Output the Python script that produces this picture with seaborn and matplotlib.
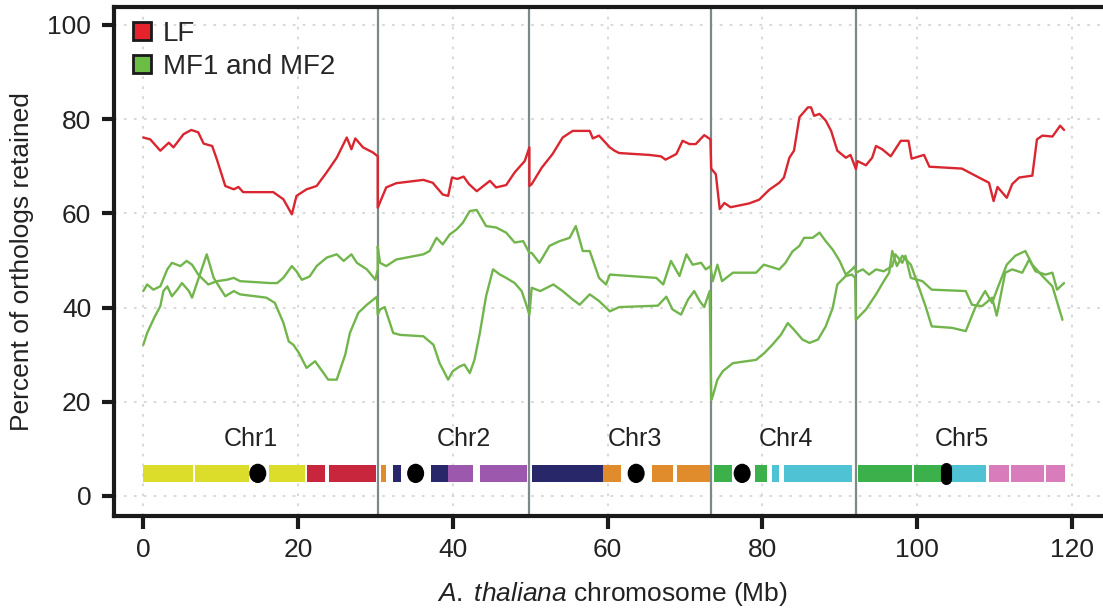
import matplotlib
matplotlib.use("Agg")
import matplotlib.pyplot as plt
from matplotlib.patches import Patch, Ellipse
import numpy as np
import pandas as pd
import seaborn as sns

# Sliding-window retention along the concatenated A. thaliana genome (Mb, %)
lf_points = [
    (0.0, 76.1), (0.9, 75.7), (2.2, 73.3), (3.3, 75.0), (3.9, 74.0), (5.2, 76.8),
    (6.2, 77.7), (7.1, 77.2), (7.8, 74.8), (8.9, 74.3), (9.5, 71.5), (10.6, 65.8),
    (11.7, 65.1), (12.3, 65.6), (12.9, 64.5), (16.8, 64.5), (18.1, 63.0), (19.2, 59.8),
    (19.8, 63.7), (21.1, 65.1), (22.4, 65.8), (23.7, 68.7), (25.0, 71.8), (26.3, 76.1),
    (26.9, 73.6), (27.4, 75.9), (28.4, 74.0), (29.7, 72.9), (30.3, 72.1),
    (30.3, 61.2), (31.4, 65.5), (32.7, 66.4), (36.2, 67.1), (37.4, 66.5), (38.7, 64.0),
    (39.4, 63.7), (39.9, 67.6), (40.6, 67.3), (41.4, 67.8), (42.1, 66.2), (43.1, 64.7),
    (44.8, 66.9), (45.6, 65.5), (46.9, 66.0), (48.0, 68.7), (49.3, 71.1), (49.9, 74.0),
    (49.9, 65.8), (50.2, 66.2), (51.5, 69.7), (52.9, 72.6), (54.2, 76.1), (55.5, 77.5),
    (57.7, 77.5), (58.1, 75.9), (58.9, 76.5), (60.3, 74.0), (60.9, 73.3), (61.5, 72.8),
    (65.4, 72.4), (66.9, 72.1), (67.5, 71.4), (68.9, 72.6), (69.7, 75.4), (70.6, 74.7),
    (71.4, 74.7), (72.5, 76.6), (73.3, 75.7),
    (73.4, 69.5), (74.0, 68.3), (74.5, 60.9), (75.1, 62.2), (75.9, 61.3), (78.3, 62.1),
    (79.6, 62.9), (80.9, 65.0), (82.2, 66.5), (82.8, 67.6), (83.5, 71.8), (84.1, 73.3),
    (84.8, 80.4), (85.9, 82.5), (86.3, 82.5), (86.7, 80.7), (87.4, 81.1), (88.2, 79.7),
    (88.9, 77.5), (89.7, 73.3), (90.8, 71.8), (91.4, 72.4), (92.1, 69.4),
    (92.3, 71.1), (93.4, 70.2), (94.2, 71.8), (94.7, 74.3), (95.5, 73.6), (96.6, 72.1),
    (97.9, 75.4), (98.9, 75.4), (99.3, 71.6), (100.9, 72.4), (101.6, 69.9), (105.8, 69.5),
    (108.0, 67.6), (109.3, 66.5), (109.9, 62.6), (110.4, 65.6), (111.6, 63.3), (112.3, 66.2),
    (113.2, 67.6), (114.9, 68.0), (115.5, 75.7), (116.2, 76.5), (117.5, 76.3), (118.5, 78.6),
    (119.0, 77.7),
]

mf1_points = [
    (0.0, 43.5), (0.5, 44.9), (1.3, 43.8), (2.2, 44.5), (3.1, 48.1), (3.7, 49.5),
    (4.8, 48.8), (5.6, 49.9), (6.3, 49.1), (7.1, 47.0), (8.4, 44.9), (9.5, 45.6),
    (10.8, 45.9), (11.7, 46.3), (12.5, 45.6), (16.4, 45.2), (17.3, 45.2), (18.1, 46.3),
    (19.2, 48.8), (19.8, 47.7), (20.5, 45.9), (21.5, 46.6), (22.4, 48.8), (23.7, 50.6),
    (25.0, 51.3), (25.9, 49.9), (26.9, 51.3), (27.6, 49.5), (28.9, 48.1), (30.0, 45.9),
    (30.3, 48.1),
    (30.3, 53.0), (30.6, 49.5), (31.4, 48.8), (32.7, 50.2), (36.2, 51.3), (37.0, 52.0),
    (37.9, 54.8), (38.7, 53.4), (39.6, 55.5), (40.5, 56.6), (41.3, 58.0), (42.2, 60.5),
    (43.1, 60.7), (44.3, 57.3), (45.6, 57.0), (46.9, 55.9), (48.0, 53.8), (49.1, 54.1),
    (49.9, 51.6),
    (50.2, 51.6), (51.2, 49.5), (52.5, 53.1), (53.8, 54.1), (55.1, 54.8), (55.9, 57.3),
    (56.8, 52.0), (57.7, 52.0), (58.9, 46.3), (59.8, 44.9), (60.3, 47.0), (66.3, 46.3),
    (67.2, 44.9), (68.2, 49.9), (69.3, 46.7), (70.2, 51.3), (71.0, 49.1), (72.1, 49.5),
    (72.7, 48.1), (73.3, 48.8),
    (73.6, 45.6), (74.2, 49.1), (74.8, 45.6), (76.2, 47.4), (79.2, 47.4), (80.2, 49.1),
    (82.2, 48.1), (83.0, 49.5), (83.9, 51.9), (84.8, 53.1), (85.4, 54.8), (86.5, 54.8),
    (87.4, 55.9), (88.2, 54.1), (89.1, 52.3), (90.0, 49.9), (90.8, 47.0), (91.6, 48.1),
    (92.0, 48.8),
    (92.1, 47.4), (93.0, 48.1), (93.8, 47.0), (94.7, 48.1), (95.7, 47.7), (96.8, 48.8),
    (97.2, 51.3), (98.1, 49.5), (98.5, 51.0), (99.2, 46.3), (100.7, 45.6), (101.9, 43.8),
    (106.3, 43.5), (107.1, 40.6), (108.4, 40.3), (109.7, 42.1), (110.3, 38.3), (111.4, 47.4),
    (112.3, 48.1), (113.6, 47.4), (114.5, 50.2), (115.3, 47.7), (116.6, 47.0), (117.5, 47.4),
    (118.1, 43.8), (119.0, 45.2),
]

mf2_points = [
    (0.0, 32.1), (0.5, 34.6), (1.4, 37.8), (2.2, 40.3), (2.6, 43.5), (3.1, 44.5),
    (3.7, 42.4), (4.4, 43.8), (5.0, 45.2), (5.9, 43.5), (6.3, 42.1), (8.2, 51.3),
    (9.1, 46.3), (9.9, 44.2), (10.6, 42.4), (11.7, 43.5), (12.5, 42.8), (15.9, 42.1),
    (17.0, 41.0), (18.1, 36.8), (18.8, 32.8), (19.4, 32.1), (20.1, 30.4), (21.1, 27.2),
    (22.2, 28.6), (23.3, 26.1), (23.9, 24.7), (25.0, 24.7), (26.1, 30.0), (26.7, 34.6),
    (27.8, 38.9), (28.9, 40.6), (30.2, 42.3),
    (30.3, 38.5), (30.6, 39.6), (31.2, 40.1), (32.3, 34.6), (33.2, 34.2), (36.2, 33.9),
    (37.5, 32.1), (38.3, 28.2), (39.4, 24.7), (40.0, 26.5), (40.9, 27.5), (41.5, 27.9),
    (42.2, 26.1), (42.8, 28.9), (43.5, 34.6), (44.3, 42.4), (45.2, 48.1), (46.1, 47.0),
    (46.9, 46.3), (48.0, 45.2), (48.9, 43.5), (49.5, 40.6), (49.9, 38.5),
    (50.2, 44.2), (51.3, 43.5), (53.0, 44.9), (54.2, 43.5), (55.5, 41.7), (56.4, 40.6),
    (57.7, 42.8), (58.9, 41.4), (60.3, 39.2), (61.5, 40.1), (66.5, 40.4), (67.6, 42.3),
    (68.4, 39.6), (69.5, 38.5), (70.4, 41.7), (71.2, 43.5), (71.9, 41.4), (72.5, 40.1),
    (73.2, 43.5),
    (73.4, 20.4), (73.6, 21.2), (74.2, 24.7), (74.9, 26.5), (76.2, 28.2), (79.2, 28.9),
    (80.3, 30.4), (81.3, 32.1), (82.4, 34.2), (83.3, 36.7), (84.1, 35.3), (85.2, 33.2),
    (86.1, 32.5), (87.2, 33.2), (88.2, 36.0), (89.1, 39.9), (89.7, 44.9), (90.8, 46.7),
    (91.6, 47.0), (92.0, 46.3),
    (92.1, 37.4), (93.4, 39.6), (94.7, 42.8), (95.7, 45.6), (96.4, 47.4), (96.8, 52.0),
    (97.4, 48.8), (98.1, 51.0), (99.2, 49.1), (100.2, 44.5), (101.1, 40.3), (101.9, 36.0),
    (104.5, 35.7), (106.3, 35.0), (107.5, 39.9), (108.8, 43.5), (109.7, 41.0), (110.5, 44.5),
    (111.6, 49.1), (112.7, 51.0), (114.0, 52.0), (114.9, 49.1), (116.2, 46.7), (117.5, 44.5),
    (118.8, 37.4),
]

# Chromosome layout
chrom_names = ["Chr1", "Chr2", "Chr3", "Chr4", "Chr5"]
chrom_label_pos = [13.9, 41.4, 63.5, 83.1, 105.8]
chrom_boundaries = [30.3, 49.9, 73.4, 92.1]
centromeres = [14.8, 35.2, 63.7, 77.4]
chr5_centromere = 103.8

# Syntenic blocks painted on the chromosome ideogram (start, end, colour key)
blocks = [
    (0.0, 6.4, "yellow"), (6.7, 13.7, "yellow"), (16.2, 20.9, "yellow"),
    (21.2, 23.5, "red"), (24.0, 30.1, "red"),
    (30.7, 31.4, "orange"), (32.3, 33.3, "navy"), (37.2, 39.4, "navy"),
    (39.4, 42.6, "purple"), (43.5, 49.6, "purple"),
    (50.3, 59.4, "navy"), (59.4, 61.7, "orange"), (65.7, 68.5, "orange"), (69.0, 73.2, "orange"),
    (73.7, 76.1, "green"), (79.1, 80.6, "green"), (81.2, 82.2, "cyan"), (82.8, 91.6, "cyan"),
    (92.4, 99.4, "green"), (99.6, 103.2, "green"), (104.4, 108.9, "cyan"),
    (109.3, 111.9, "pink"), (112.2, 116.4, "pink"), (116.7, 119.1, "pink"),
]

block_colors = {
    "yellow": "#dcdc2a", "red": "#c8263c", "orange": "#e08c2c", "navy": "#27276a",
    "purple": "#9b58ad", "green": "#3cb04a", "cyan": "#4fc3d3", "pink": "#d97cbc",
}

x_ticks = [0, 20, 40, 60, 80, 100, 120]
y_ticks = [0, 20, 40, 60, 80, 100]

LF_RED = "#d92630"
MF_GREEN = "#72b54c"

sns.set_style("ticks")
plt.rcParams["font.family"] = ["Liberation Sans", "DejaVu Sans"]
plt.rcParams["mathtext.fontset"] = "custom"
plt.rcParams["mathtext.rm"] = "Liberation Sans"
plt.rcParams["mathtext.it"] = "Liberation Sans:italic"

W, H = 1103, 608
fig = plt.figure(figsize=(W / 100, H / 100), dpi=100)
ax = fig.add_axes([113.5 / W, 92.5 / H, (1112 - 113.5) / W, (515.5 - 7) / H])

frames = []
for name, pts in [("LF", lf_points), ("MF1", mf1_points), ("MF2", mf2_points)]:
    pos, pct = zip(*pts)
    frames.append(pd.DataFrame({"pos": pos, "pct": pct, "series": name}))
df = pd.concat(frames, ignore_index=True)

sns.lineplot(
    data=df, x="pos", y="pct", hue="series",
    palette={"LF": LF_RED, "MF1": MF_GREEN, "MF2": MF_GREEN},
    estimator=None, sort=False, legend=False, linewidth=1.7, ax=ax, zorder=4,
)

# Chromosome boundaries
for b in chrom_boundaries:
    ax.axvline(b, color="#7d8888", linewidth=1.6, zorder=2)

# Ideogram
bar_lo, bar_hi = 3.0, 6.6
for start, end, key in blocks:
    ax.broken_barh([(start, end - start)], (bar_lo, bar_hi - bar_lo),
                   facecolors=block_colors[key], edgecolor="none", zorder=3)
for c in centromeres:
    ax.add_patch(Ellipse((c, (bar_lo + bar_hi) / 2), width=2.2, height=4.1,
                         facecolor="black", edgecolor="none", zorder=5))
ax.plot([chr5_centromere, chr5_centromere], [bar_lo + 0.6, bar_hi - 0.6],
        color="black", linewidth=8, solid_capstyle="round", zorder=5)

for name, p in zip(chrom_names, chrom_label_pos):
    ax.text(p, 12.0, name, ha="center", va="center", fontsize=18, color="#222222")

ax.set_xlim(-3.85, 125.2)
ax.set_ylim(-4.14, 103.8)
ax.set_xticks(x_ticks)
ax.set_yticks(y_ticks)
ax.grid(True, color="#d6d6d6", linestyle=(0, (1.5, 4)), linewidth=1.3)
ax.set_axisbelow(True)

for s in ax.spines.values():
    s.set_linewidth(3)
    s.set_color("#1a1a1a")
ax.tick_params(axis="both", length=9, width=3, labelsize=19, pad=7,
               color="#1a1a1a", labelcolor="#222222")

ax.set_ylabel("Percent of orthologs retained", fontsize=19, labelpad=10, color="#222222")
ax.set_xlabel(r"$\it{A.\;thaliana}$ chromosome (Mb)", fontsize=19, labelpad=13,
              color="#222222")

handles = [
    Patch(facecolor="#e8222c", edgecolor="#1a1a1a", linewidth=2, label="LF"),
    Patch(facecolor="#6cbd45", edgecolor="#1a1a1a", linewidth=2, label="MF1 and MF2"),
]
ax.legend(handles=handles, loc="upper left", bbox_to_anchor=(0.006, 1.0),
          frameon=False, fontsize=20, handlelength=0.65, handleheight=0.65,
          handletextpad=0.4, labelspacing=0.25, borderaxespad=0.3, borderpad=0.2)

fig.savefig("out.png", dpi=100)
